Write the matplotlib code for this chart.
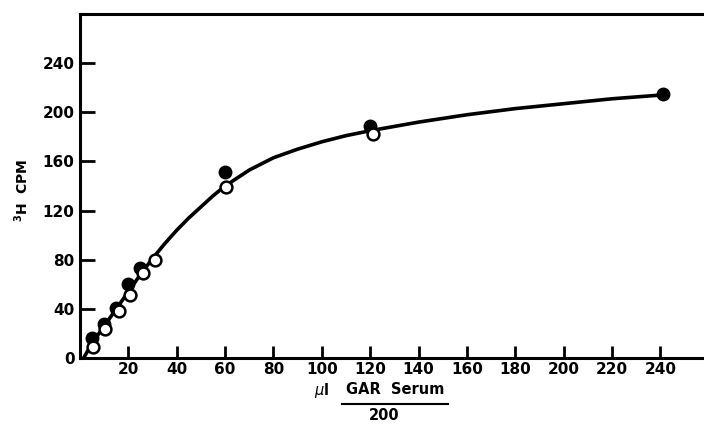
import matplotlib.pyplot as plt
from matplotlib.lines import Line2D

# measured points
filled_x = [5, 10, 15, 20, 25, 60, 120, 241]
filled_y = [16, 28, 41, 60, 73, 151, 189, 215]
open_x = [5.5, 10.5, 16, 20.5, 26, 31, 60.5, 121]
open_y = [9, 24, 38, 51, 69, 80, 139, 182]

# hand-drawn fit curve
curve_x = [1.5, 5, 10, 15, 20, 25, 30, 35, 40, 45, 50, 55, 60, 70, 80, 90, 100,
           110, 120, 140, 160, 180, 200, 220, 240]
curve_y = [0, 12, 26, 40, 54, 68, 81, 93, 104, 114, 123, 132, 140, 153, 163, 170,
           176, 181, 185, 192, 198, 203, 207, 211, 214]

x_ticks = [20, 40, 60, 80, 100, 120, 140, 160, 180, 200, 220, 240]
y_ticks = [0, 40, 80, 120, 160, 200, 240]

W, H = 704, 425
fig = plt.figure(figsize=(7.04, 4.25), dpi=100)
ax = fig.add_axes([80 / W, 1 - 358 / H, 1 - 80 / W, (358 - 14) / H])

ax.plot(curve_x, curve_y, color='black', lw=2.6, solid_capstyle='round',
        solid_joinstyle='round', zorder=2)
ax.plot(filled_x, filled_y, 'o', ms=9, color='black', zorder=3)
ax.plot(open_x, open_y, 'o', ms=8.5, mfc='white', mec='black', mew=1.8, zorder=4)

ax.set_xlim(0, 258)
ax.set_ylim(0, 280)
ax.set_xticks(x_ticks)
ax.set_yticks(y_ticks)
ax.set_xticklabels([str(v) for v in x_ticks], fontsize=11, fontweight='semibold')
ax.set_yticklabels([str(v) for v in y_ticks], fontsize=11, fontweight='semibold')
ax.tick_params(axis='x', direction='in', length=9, width=2, pad=3)
ax.tick_params(axis='y', direction='in', length=11, width=2, pad=4)

ax.spines['right'].set_visible(False)
for side in ['left', 'top', 'bottom']:
    ax.spines[side].set_linewidth(2.2)

# axis titles
fig.text(22 / W, 1 - 190 / H, r'$^{\mathbf{3}}$H  CPM', rotation=90, ha='center',
         va='center', fontsize=10, fontweight='bold')
fig.text(322 / W, 1 - 390 / H, r'$\mu$l', ha='center', va='center',
         fontsize=10.5, fontweight='bold')
fig.text(395 / W, 1 - 390 / H, 'GAR  Serum', ha='center', va='center',
         fontsize=10.5, fontweight='bold')
fig.add_artist(Line2D([342 / W, 448 / W], [1 - 404 / H, 1 - 404 / H],
                      color='black', lw=1.5, transform=fig.transFigure))
fig.text(384 / W, 1 - 416 / H, '200', ha='center', va='center',
         fontsize=10.5, fontweight='bold')

fig.savefig('out.png', dpi=100)
